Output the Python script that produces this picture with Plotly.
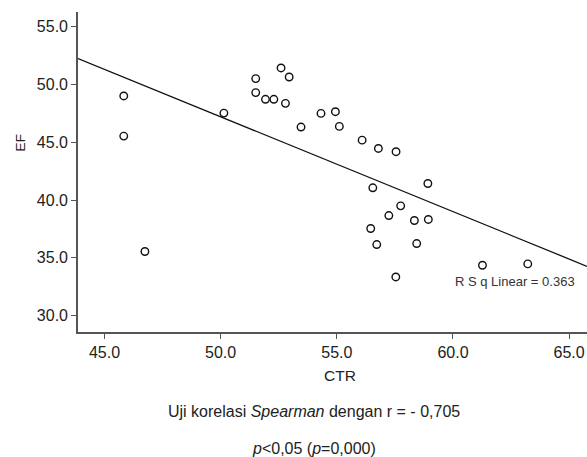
import plotly.graph_objects as go

# Data
ctr = [45.83, 45.83, 46.74, 50.14, 51.51, 52.60, 52.95, 51.51, 51.93, 52.29,
       52.79, 53.46, 54.32, 54.94, 55.11, 56.09, 56.79, 57.55, 56.55, 58.92,
       57.75, 57.24, 58.34, 58.94, 56.46, 56.72, 58.44, 61.27, 63.22, 57.54]
ef = [49.00, 45.53, 35.55, 47.52, 50.50, 51.42, 50.64, 49.29, 48.71, 48.71,
      48.36, 46.31, 47.49, 47.64, 46.37, 45.18, 44.46, 44.18, 41.06, 41.43,
      39.50, 38.66, 38.23, 38.32, 37.54, 36.15, 36.24, 34.36, 34.48, 33.35]

# Fit line
fit_slope = -0.820
fit_intercept = 88.2
r_sq = 0.363

x_ticks = [45, 50, 55, 60, 65]
y_ticks = [30, 35, 40, 45, 50, 55]
x_range = [43.86, 65.77]
y_range = [28.59, 56.26]

FONT = "Arial, Liberation Sans, Helvetica, sans-serif"
TXT = "#222222"
AX = "#555555"

L, R, T, B = 78, 587, 12, 332.3
W, H = 587, 457


def px(x):
    return (x - L) / (R - L)


def py(y):
    return (B - y) / (B - T)


fig = go.Figure()
fig.add_trace(go.Scatter(
    x=x_range, y=[fit_intercept + fit_slope * v for v in x_range],
    mode="lines", line=dict(color="#111111", width=1.3),
    hoverinfo="skip", showlegend=False))
fig.add_trace(go.Scatter(
    x=ctr, y=ef, mode="markers",
    marker=dict(symbol="circle-open", size=7.5, color="#111111",
                line=dict(width=1.4, color="#111111")),
    showlegend=False, cliponaxis=False))

fig.update_layout(
    width=W, height=H,
    margin=dict(l=L, r=W - R, t=T, b=H - B, autoexpand=False),
    paper_bgcolor="white", plot_bgcolor="white",
    font=dict(family=FONT, color=TXT, size=15),
    xaxis=dict(range=x_range, tickvals=x_ticks,
               ticktext=[f"{v:.1f}" for v in x_ticks], automargin=False,
               showgrid=False, zeroline=False, showline=True,
               linecolor=AX, linewidth=1.6, ticks="outside", ticklen=5,
               tickcolor=AX, tickwidth=1.3, tickfont=dict(size=16, color=TXT)),
    yaxis=dict(range=y_range, tickvals=y_ticks,
               ticktext=[f"{v:.1f}" for v in y_ticks], automargin=False,
               showgrid=False, zeroline=False, showline=True,
               linecolor=AX, linewidth=1.6, ticks="outside", ticklen=5,
               tickcolor=AX, tickwidth=1.3, tickfont=dict(size=16, color=TXT)),
)

fig.add_annotation(text="EF", xref="paper", yref="paper", x=px(20.5), y=py(143),
                   textangle=-90, showarrow=False, font=dict(size=13.5, color=TXT),
                   xanchor="center", yanchor="middle")
fig.add_annotation(text="CTR", xref="paper", yref="paper", x=px(340), y=py(375.7),
                   showarrow=False, font=dict(size=15.5, color=TXT),
                   xanchor="center", yanchor="middle")
fig.add_annotation(text=f"R S q Linear = {r_sq:.3f}", xref="paper", yref="paper",
                   x=px(577), y=py(281.7),
                   xanchor="right", yanchor="middle", showarrow=False,
                   font=dict(size=13, color="#333333"))
fig.add_annotation(text="Uji korelasi <i>Spearman</i> dengan r = - 0,705", xref="paper", yref="paper",
                   x=px(314), y=py(412.3),
                   xanchor="center", yanchor="middle", showarrow=False,
                   font=dict(size=16, color=TXT))
fig.add_annotation(text="<i>p</i>&lt;0,05 (<i>p</i>=0,000)", xref="paper", yref="paper",
                   x=px(314), y=py(448.5),
                   xanchor="center", yanchor="middle", showarrow=False,
                   font=dict(size=16, color=TXT))

fig.write_html(
    "out.html",
    config={"displayModeBar": False},
    post_script="document.body.style.margin='0';document.body.style.overflow='hidden';",
)
